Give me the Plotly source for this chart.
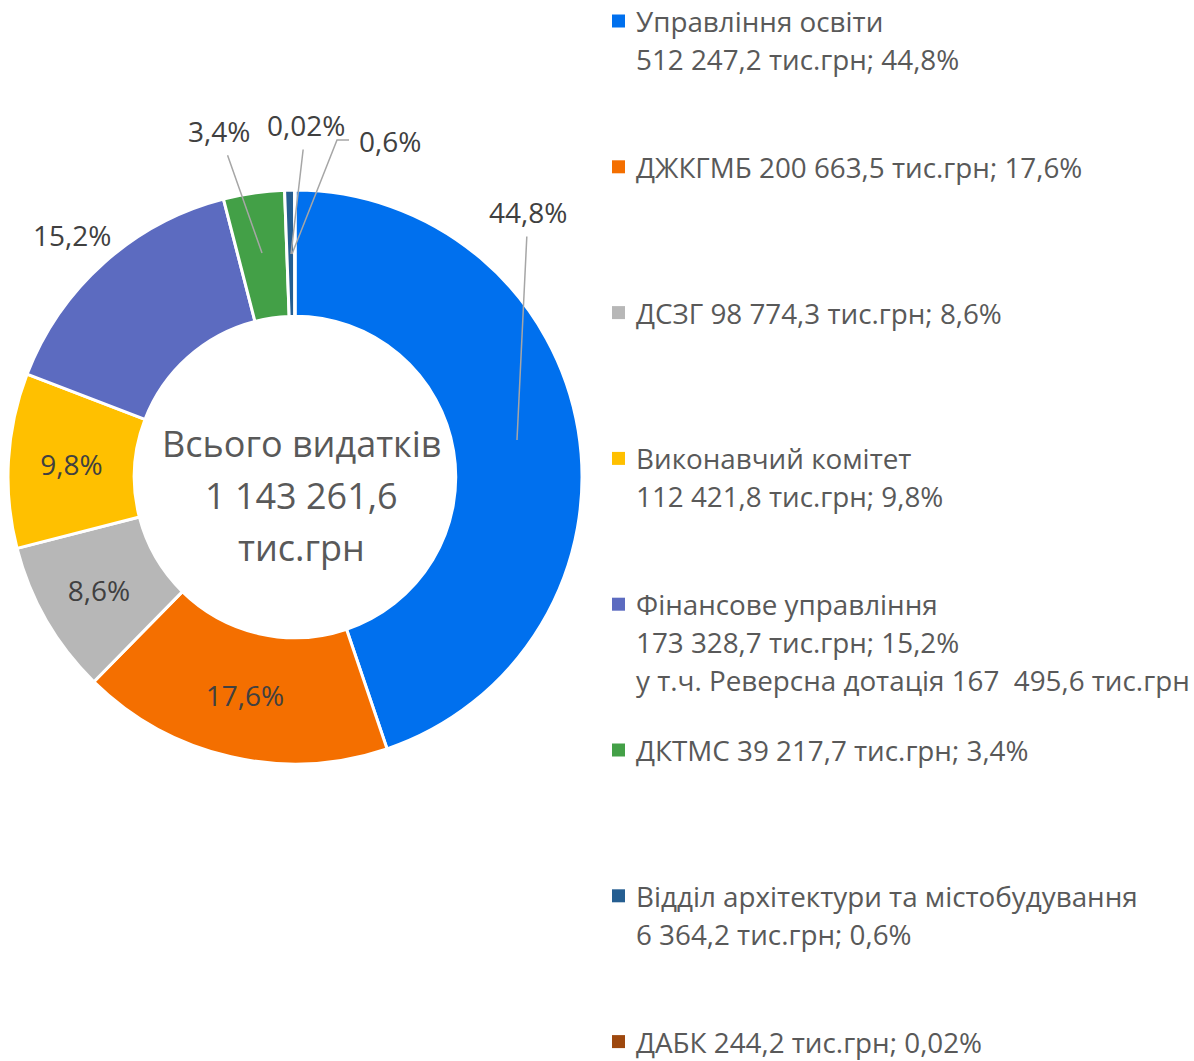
import plotly.graph_objects as go

W, H = 1194, 1061

# ---- data ----
names = ["Управління освіти", "ДЖКГМБ", "ДСЗГ", "Виконавчий комітет",
         "Фінансове управління", "ДКТМС", "Відділ архітектури та містобудування", "ДАБК"]
values = [512247.2, 200663.5, 98774.3, 112421.8, 173328.7, 39217.7, 6364.2, 244.2]
pct_labels = ["44,8%", "17,6%", "8,6%", "9,8%", "15,2%", "3,4%", "0,6%", "0,02%"]
colors = ["#0070EE", "#F46F00", "#B7B7B7", "#FFC000", "#5C6BC0", "#43A047", "#255E91", "#9E480E"]
legend_lines = [
    ["Управління освіти", "512 247,2 тис.грн; 44,8%"],
    ["ДЖКГМБ 200 663,5 тис.грн; 17,6%"],
    ["ДСЗГ 98 774,3 тис.грн; 8,6%"],
    ["Виконавчий комітет", "112 421,8 тис.грн; 9,8%"],
    ["Фінансове управління", "173 328,7 тис.грн; 15,2%", "у т.ч. Реверсна дотація 167  495,6 тис.грн"],
    ["ДКТМС 39 217,7 тис.грн; 3,4%"],
    ["Відділ архітектури та містобудування", "6 364,2 тис.грн; 0,6%"],
    ["ДАБК 244,2 тис.грн; 0,02%"],
]
center_lines = ["Всього видатків", "1 143 261,6", "тис.грн"]

FONT = "Open Sans"


def px(x):
    return x / W


def py(y):
    return 1 - y / H


# pie geometry (pixels)
cx, cy, R = 295, 477, 287

inside = {1, 2, 3}
textpos = ["inside" if i in inside else "none" for i in range(len(values))]

fig = go.Figure()
fig.add_trace(go.Pie(
    labels=names, values=values, text=pct_labels,
    textinfo="text", textposition=textpos,
    insidetextorientation="horizontal",
    textfont=dict(family=FONT, size=28, color="#404040"),
    marker=dict(colors=colors, line=dict(color="white", width=3)),
    hole=0.56, sort=False, direction="clockwise", rotation=0,
    domain=dict(x=[px(cx - R), px(cx + R)], y=[py(cy + R), py(cy - R)]),
    showlegend=False, hoverinfo="label+value+percent",
))

annotations = []
shapes = []

# outside data labels: (index, text center px, arrow target px or None)
outside_labels = [
    (0, (528, 212), (517, 440)),
    (4, (72, 235), None),
    (5, (219, 131), (262, 253)),
    (7, (306, 125), (291, 254)),
    (6, (390, 141), None),
]
for idx, (tx, ty), tgt in outside_labels:
    if tgt is None:
        annotations.append(dict(x=px(tx), y=py(ty), xref="paper", yref="paper",
                                xanchor="center", yanchor="middle",
                                text=pct_labels[idx], showarrow=False,
                                font=dict(family=FONT, size=28, color="#404040")))
    else:
        gx, gy = tgt
        annotations.append(dict(x=px(gx), y=py(gy), xref="paper", yref="paper",
                                ax=tx - gx, ay=ty - gy, axref="pixel", ayref="pixel",
                                xanchor="center", yanchor="middle",
                                text=pct_labels[idx], showarrow=True, arrowhead=0,
                                arrowwidth=1.5, arrowcolor="#A6A6A6", startstandoff=4,
                                font=dict(family=FONT, size=28, color="#404040")))

# leader line for the 0,6% label (elbow, as in the original)
leader = [(349, 140), (337, 140), (292, 254)]
shapes.append(dict(type="path", xref="paper", yref="paper",
                   path="M " + " L ".join(f"{px(x)},{py(y)}" for x, y in leader),
                   line=dict(color="#A6A6A6", width=1.5)))

# center text
for k, line in enumerate(center_lines):
    annotations.append(dict(x=px(301), y=py(443 + 52 * k), xref="paper", yref="paper",
                            xanchor="center", yanchor="middle",
                            text=line, showarrow=False,
                            font=dict(family=FONT, size=36, color="#595959")))

# legend
lx_sq, lx_txt, ly0, lstep, lline = 612, 634, 21, 145.8, 38
for i, lines in enumerate(legend_lines):
    y0 = ly0 + lstep * i
    shapes.append(dict(type="rect", xref="paper", yref="paper",
                       x0=px(lx_sq), x1=px(lx_sq + 13), y0=py(y0 - 6.5), y1=py(y0 + 6.5),
                       fillcolor=colors[i], line=dict(width=0)))
    for k, line in enumerate(lines):
        annotations.append(dict(x=px(lx_txt), y=py(y0 + lline * k), xref="paper", yref="paper",
                                xanchor="left", yanchor="middle", text=line, showarrow=False,
                                font=dict(family=FONT, size=27.8, color="#595959")))

fig.update_layout(
    width=W, height=H, margin=dict(l=0, r=0, t=0, b=0),
    paper_bgcolor="white", plot_bgcolor="white",
    annotations=annotations, shapes=shapes, showlegend=False,
)

fig.write_html("out.html", config={"displayModeBar": False},
               post_script="document.body.style.margin='0';")
